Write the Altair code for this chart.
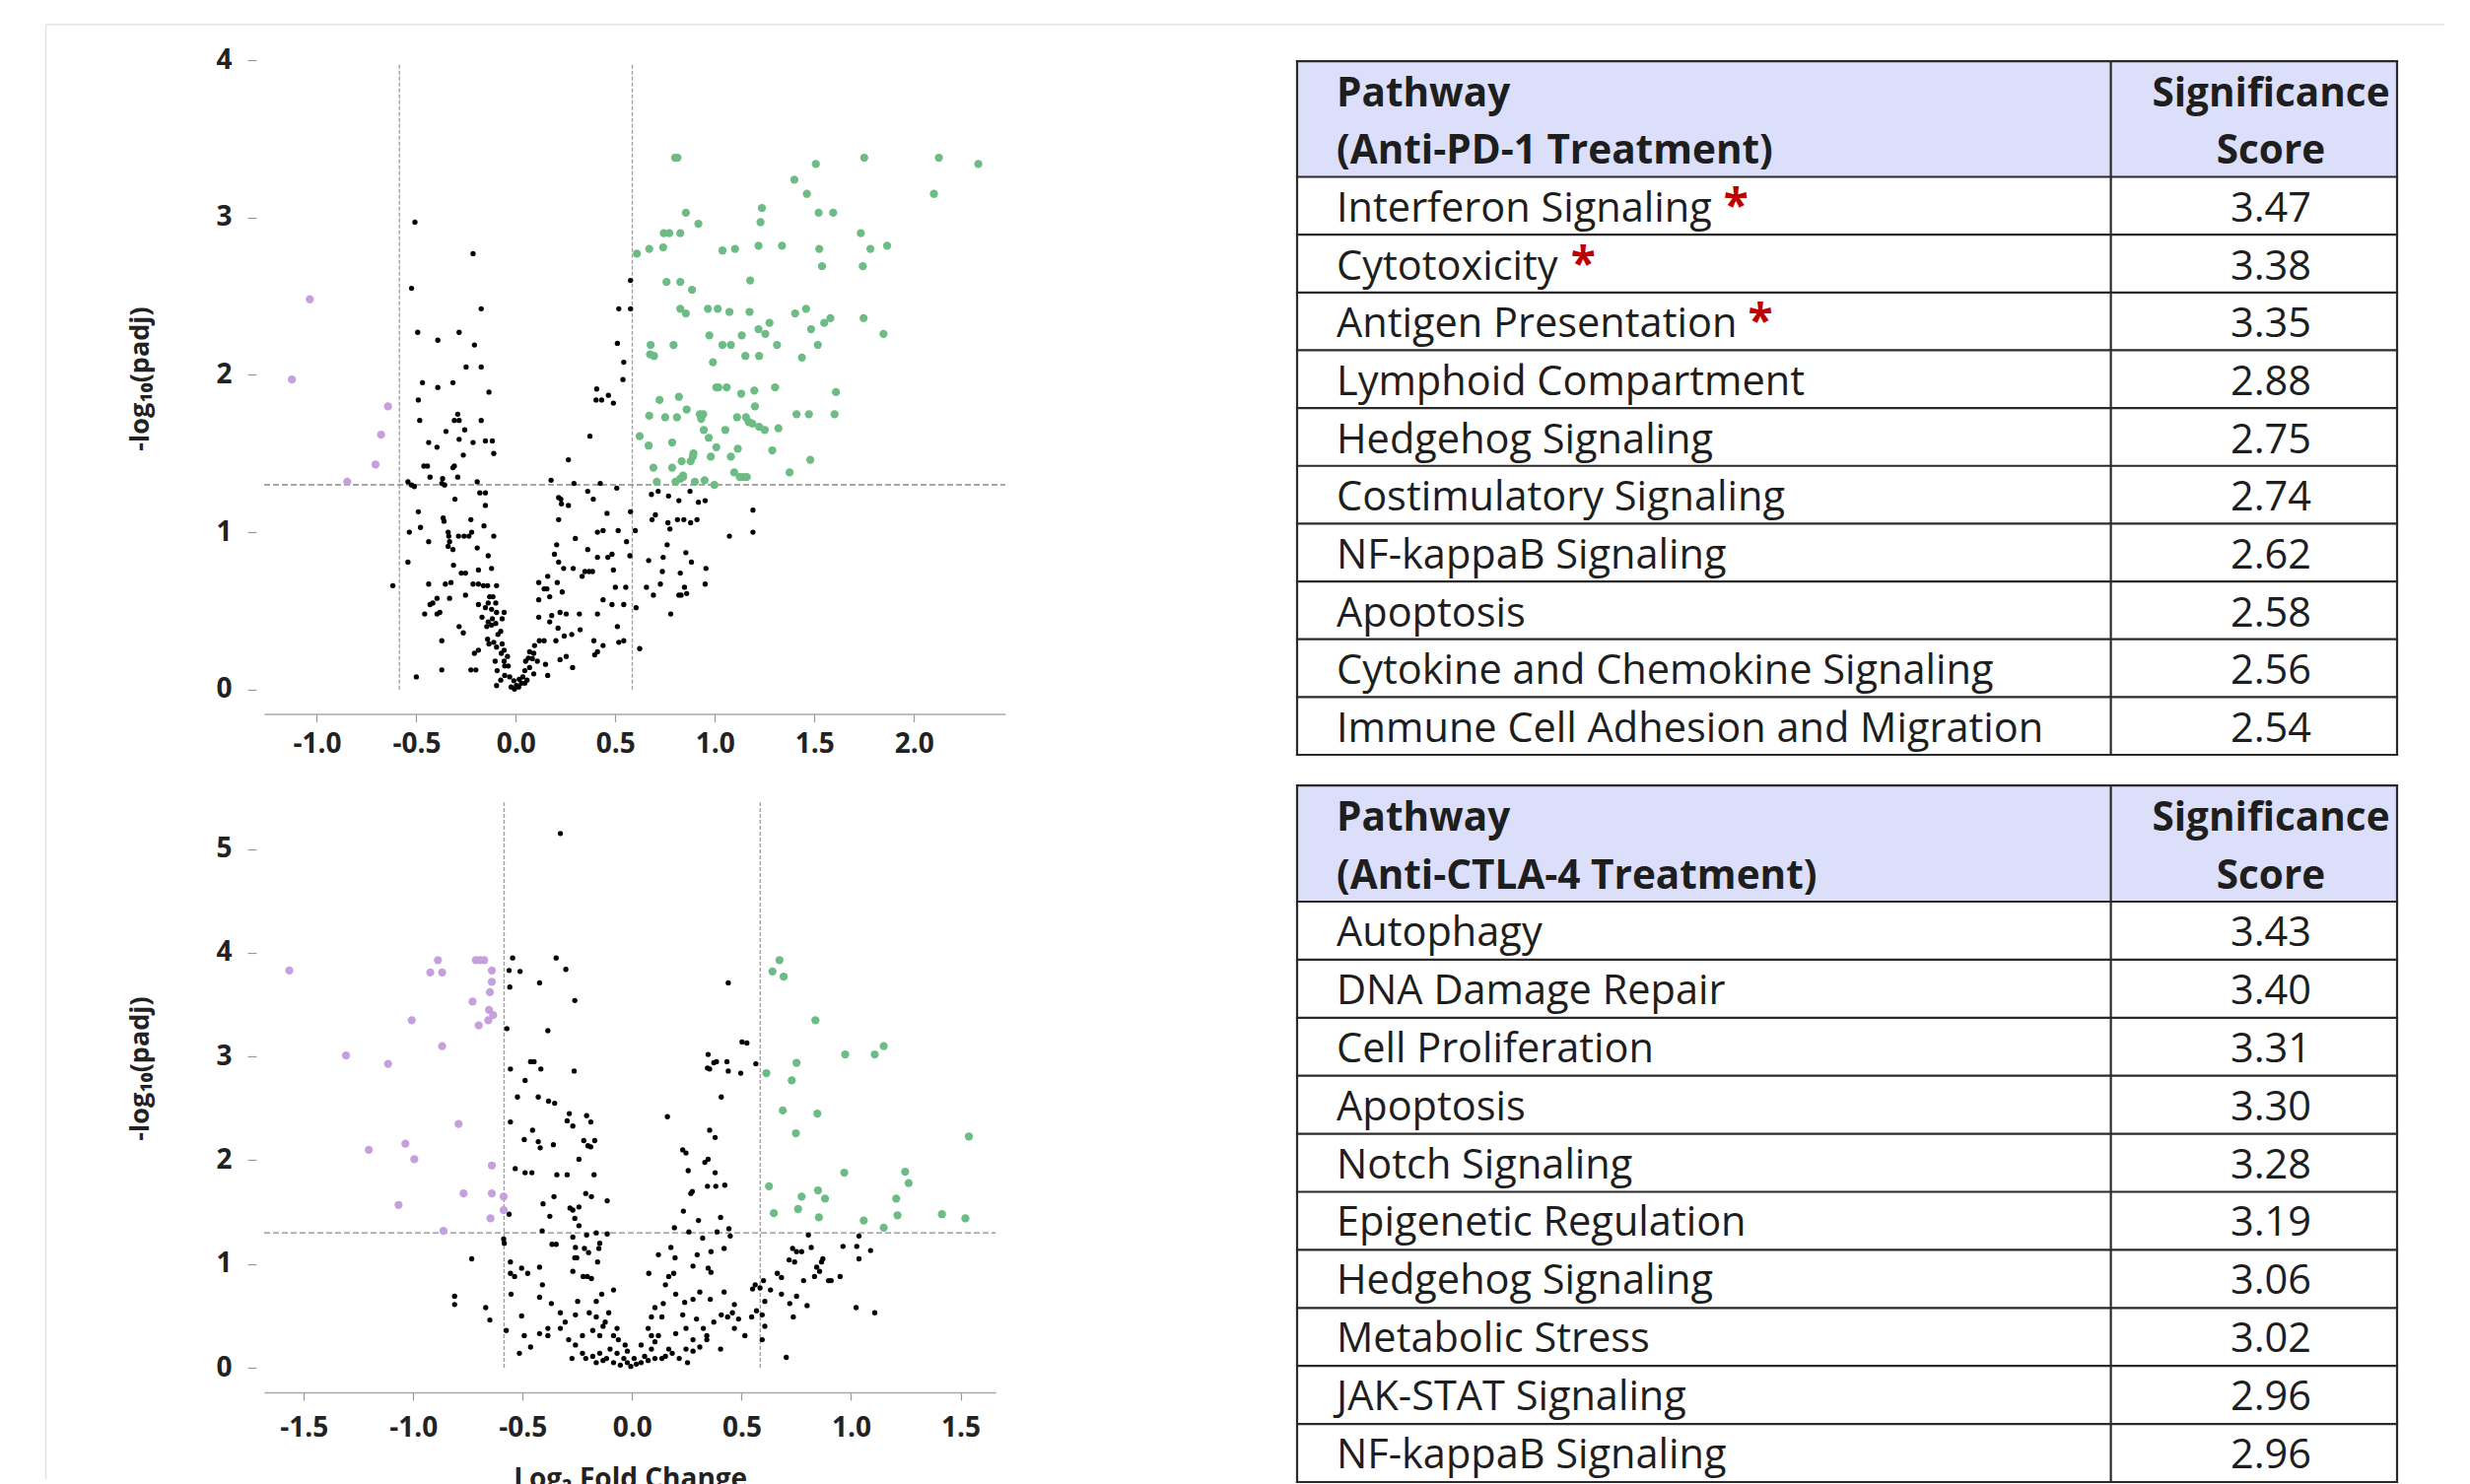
import altair as alt
import pandas as pd

# ---------------- volcano data: (log2 fold change, -log10 padj) ----------------
pd1_down = [(-1.035, 2.48), (-1.125, 1.97), (-0.642, 1.80), (-0.677, 1.62), (-0.705, 1.43), (-0.847, 1.32)]

pd1_up = [
    (0.80, 3.38), (0.812, 3.38), (1.507, 3.34), (1.75, 3.38), (2.125, 3.38), (2.323, 3.34), (1.399, 3.24),
    (1.462, 3.15), (2.10, 3.15), (0.854, 3.03), (1.236, 3.06), (1.229, 2.97), (1.521, 3.03), (1.594, 3.03),
    (0.917, 2.96), (0.743, 2.90), (0.771, 2.90), (0.826, 2.90), (1.733, 2.90), (0.608, 2.77), (0.670, 2.80),
    (0.740, 2.81), (1.038, 2.79), (1.101, 2.80), (1.219, 2.82), (1.337, 2.82), (1.524, 2.80), (1.781, 2.80),
    (1.865, 2.82), (1.538, 2.69), (1.743, 2.69), (0.757, 2.59), (0.826, 2.59), (0.885, 2.54), (1.177, 2.60),
    (0.826, 2.42), (0.854, 2.39), (0.965, 2.42), (1.014, 2.42), (1.073, 2.40), (1.174, 2.40), (1.403, 2.39),
    (1.458, 2.42), (1.549, 2.33), (1.58, 2.36), (1.747, 2.36), (1.483, 2.29), (1.219, 2.29), (1.253, 2.26),
    (1.274, 2.33), (1.135, 2.25), (0.972, 2.25), (1.847, 2.26), (0.677, 2.19), (0.792, 2.19), (1.038, 2.19),
    (1.08, 2.19), (1.312, 2.19), (1.517, 2.19), (0.674, 2.13), (0.694, 2.12), (1.153, 2.12), (1.222, 2.12),
    (1.437, 2.11), (0.99, 2.08), (1.007, 1.92), (1.017, 1.92), (1.059, 1.92), (1.132, 1.88), (1.198, 1.90),
    (1.302, 1.92), (1.608, 1.89), (0.722, 1.84), (0.819, 1.86), (1.201, 1.80), (0.858, 1.78), (0.670, 1.74),
    (0.75, 1.73), (0.809, 1.73), (0.924, 1.75), (0.941, 1.75), (0.931, 1.72), (1.111, 1.73), (1.156, 1.73),
    (1.17, 1.70), (1.188, 1.69), (1.222, 1.67), (1.25, 1.65), (1.319, 1.66), (1.41, 1.75), (1.472, 1.75),
    (1.601, 1.75), (0.944, 1.65), (1.052, 1.65), (0.622, 1.61), (0.969, 1.60), (0.667, 1.55), (0.785, 1.57),
    (0.892, 1.50), (0.889, 1.48), (1.007, 1.54), (1.115, 1.53), (1.288, 1.52), (0.833, 1.45), (0.878, 1.45),
    (0.979, 1.48), (1.08, 1.48), (1.479, 1.46), (0.691, 1.41), (0.785, 1.41), (0.84, 1.36), (1.097, 1.38),
    (1.125, 1.35), (1.142, 1.35), (1.16, 1.35), (1.375, 1.38), (0.708, 1.32), (0.802, 1.32), (0.826, 1.34),
    (0.84, 1.35), (0.899, 1.32), (0.948, 1.33), (0.997, 1.30),
]

pd1_ns = [
    (-0.507, 2.97), (-0.215, 2.77), (-0.524, 2.55), (-0.174, 2.42), (-0.493, 2.27), (-0.285, 2.27), (-0.392, 2.22),
    (-0.208, 2.19), (-0.25, 2.05), (-0.174, 2.05), (-0.469, 1.95), (-0.316, 1.95), (-0.392, 1.92), (-0.135, 1.89),
    (-0.49, 1.84), (-0.292, 1.75), (-0.309, 1.71), (-0.285, 1.71), (-0.174, 1.71), (-0.483, 1.71), (-0.257, 1.65),
    (-0.351, 1.64), (-0.285, 1.59), (-0.438, 1.57), (-0.215, 1.57), (-0.153, 1.58), (-0.118, 1.58), (-0.396, 1.54),
    (-0.111, 1.50), (-0.264, 1.49), (-0.462, 1.42), (-0.444, 1.42), (-0.309, 1.42), (-0.316, 1.41), (-0.431, 1.35),
    (-0.368, 1.34), (-0.292, 1.35), (-0.194, 1.32), (-0.542, 1.32), (-0.524, 1.30), (-0.51, 1.29), (-0.372, 1.31),
    (-0.358, 1.30), (-0.181, 1.25), (-0.153, 1.25), (-0.306, 1.21), (-0.153, 1.17), (-0.49, 1.13), (-0.365, 1.09),
    (-0.361, 1.07), (-0.226, 1.08), (-0.479, 1.03), (-0.535, 1.00), (-0.340, 1.00), (-0.222, 1.00), (-0.337, 0.975),
    (-0.288, 0.975), (-0.26, 0.975), (-0.236, 0.975), (-0.16, 1.04), (-0.111, 0.975), (-0.333, 0.94), (-0.438, 0.94),
    (-0.34, 0.91), (-0.316, 0.89), (-0.194, 0.90), (-0.139, 0.85), (-0.313, 0.79), (-0.122, 0.77), (-0.542, 0.81),
    (-0.188, 0.76), (-0.274, 0.74), (-0.253, 0.74), (-0.618, 0.66), (-0.438, 0.67), (-0.354, 0.67), (-0.326, 0.68),
    (-0.215, 0.67), (-0.188, 0.67), (-0.163, 0.66), (-0.142, 0.66), (-0.097, 0.66), (-0.253, 0.60), (-0.396, 0.58),
    (-0.333, 0.58), (-0.132, 0.59), (-0.115, 0.59), (-0.139, 0.55), (-0.101, 0.55), (-0.417, 0.55), (-0.431, 0.54),
    (-0.188, 0.54), (-0.153, 0.52), (-0.122, 0.51), (-0.097, 0.49), (-0.059, 0.49), (-0.382, 0.49), (-0.458, 0.48),
    (-0.396, 0.48), (-0.170, 0.46), (-0.118, 0.45), (-0.069, 0.45), (-0.139, 0.43), (-0.122, 0.41), (-0.146, 0.40),
    (-0.101, 0.42), (-0.285, 0.40), (-0.264, 0.36), (-0.076, 0.37), (-0.09, 0.35), (-0.142, 0.32), (-0.111, 0.30),
    (-0.372, 0.31), (-0.135, 0.29), (-0.069, 0.29), (-0.097, 0.27), (-0.059, 0.25), (-0.188, 0.25), (-0.208, 0.23),
    (-0.073, 0.23), (-0.042, 0.21), (-0.104, 0.18), (-0.059, 0.18), (-0.056, 0.15), (-0.038, 0.15), (-0.226, 0.125),
    (-0.201, 0.125), (-0.372, 0.125), (-0.094, 0.12), (-0.056, 0.09), (-0.031, 0.08), (-0.076, 0.06), (-0.097, 0.025),
    (-0.010, 0.056), (0.003, 0.025), (-0.007, 0.003), (0.014, 0.016), (0.028, 0.04), (-0.5, 0.08), (-0.024, 0.016),
    (0.576, 2.60), (0.517, 2.42), (0.576, 2.42), (0.51, 2.20), (0.542, 2.08), (0.538, 1.97), (0.406, 1.91),
    (0.403, 1.84), (0.431, 1.84), (0.465, 1.87), (0.49, 1.82), (0.372, 1.61), (0.264, 1.46), (0.177, 1.33),
    (0.292, 1.31), (0.424, 1.31), (0.507, 1.28), (0.361, 1.26), (0.215, 1.22), (0.226, 1.21), (0.229, 1.18),
    (0.264, 1.17), (0.389, 1.21), (0.215, 1.08), (0.458, 1.12), (0.576, 1.13), (0.41, 1.00), (0.438, 1.01),
    (0.514, 1.01), (0.60, 1.01), (0.299, 0.96), (0.205, 0.92), (0.361, 0.89), (0.194, 0.86), (0.556, 0.94),
    (0.41, 0.84), (0.462, 0.84), (0.483, 0.86), (0.573, 0.85), (0.215, 0.81), (0.24, 0.77), (0.49, 0.76),
    (0.288, 0.77), (0.347, 0.75), (0.368, 0.75), (0.385, 0.75), (0.16, 0.72), (0.333, 0.72), (0.115, 0.68),
    (0.208, 0.68), (0.142, 0.64), (0.156, 0.64), (0.233, 0.62), (0.5, 0.65), (0.552, 0.65), (0.115, 0.57),
    (0.17, 0.59), (0.222, 0.49), (0.253, 0.48), (0.319, 0.48), (0.438, 0.57), (0.483, 0.54), (0.542, 0.54),
    (0.604, 0.52), (0.41, 0.48), (0.18, 0.47), (0.115, 0.46), (0.17, 0.43), (0.212, 0.39), (0.323, 0.38),
    (0.51, 0.40), (0.243, 0.34), (0.281, 0.35), (0.201, 0.31), (0.392, 0.31), (0.118, 0.31), (0.142, 0.31),
    (0.517, 0.30), (0.542, 0.31), (0.438, 0.28), (0.41, 0.24), (0.396, 0.22), (0.622, 0.26), (0.253, 0.21),
    (0.222, 0.19), (0.285, 0.14), (0.094, 0.28), (0.069, 0.24), (0.09, 0.23), (0.063, 0.20), (0.083, 0.196),
    (0.108, 0.18), (0.049, 0.18), (0.149, 0.16), (0.16, 0.09), (0.069, 0.14), (0.045, 0.12), (0.09, 0.10),
    (0.035, 0.08), (0.056, 0.06), (0.017, 0.065), (0.045, 0.04),
    (0.681, 1.24), (0.715, 1.26), (0.767, 1.23), (0.819, 1.20), (0.875, 1.26), (0.917, 1.19), (0.951, 1.20),
    (0.684, 1.08), (0.701, 1.11), (0.764, 1.06), (0.774, 1.02), (0.812, 1.08), (0.844, 1.08), (0.91, 1.08),
    (0.878, 1.06), (1.191, 1.14), (1.191, 1.00), (1.073, 0.975), (0.76, 0.92), (0.667, 0.82), (0.74, 0.84),
    (0.854, 0.87), (0.882, 0.81), (0.736, 0.75), (0.826, 0.74), (0.955, 0.77), (0.656, 0.65), (0.726, 0.67),
    (0.691, 0.60), (0.819, 0.60), (0.847, 0.65), (0.83, 0.60), (0.858, 0.61), (0.951, 0.67), (0.778, 0.48),
]

ctla_down = [
    (-1.566, 3.83), (-0.887, 3.93), (-0.922, 3.81), (-0.868, 3.81), (-0.714, 3.93), (-0.695, 3.93), (-0.676, 3.93),
    (-0.641, 3.83), (-0.641, 3.72), (-0.65, 3.62), (-0.729, 3.53), (-0.654, 3.45), (-0.635, 3.40), (-0.657, 3.35),
    (-0.701, 3.30), (-1.007, 3.35), (-0.868, 3.10), (-1.307, 3.01), (-1.115, 2.93), (-0.793, 2.35), (-1.036, 2.16),
    (-1.203, 2.10), (-0.995, 2.01), (-0.641, 1.95), (-0.770, 1.68), (-0.641, 1.68), (-0.587, 1.65), (-0.587, 1.52),
    (-1.067, 1.57), (-0.647, 1.44), (-0.862, 1.32),
]

ctla_up = [
    (0.673, 3.93), (0.641, 3.82), (0.692, 3.77), (0.837, 3.35), (0.751, 2.94), (0.613, 2.84), (0.729, 2.77),
    (1.149, 3.10), (0.973, 3.02), (1.108, 3.02), (0.688, 2.48), (0.846, 2.45), (0.748, 2.26), (1.538, 2.23),
    (0.969, 1.88), (1.247, 1.89), (1.263, 1.78), (0.625, 1.75), (0.849, 1.71), (0.881, 1.63), (0.774, 1.65),
    (1.206, 1.63), (0.647, 1.49), (0.758, 1.53), (0.853, 1.45), (1.212, 1.47), (1.415, 1.48), (1.522, 1.44),
    (1.058, 1.42), (1.149, 1.35),
]

ctla_ns = [
    (-0.328, 5.15), (-0.546, 3.95), (-0.347, 3.95), (-0.562, 3.83), (-0.512, 3.82), (-0.303, 3.84), (-0.559, 3.67),
    (-0.423, 3.71), (0.439, 3.71), (-0.262, 3.54), (-0.572, 3.27), (-0.385, 3.25), (0.502, 3.14), (0.524, 3.13),
    (0.347, 3.02), (0.344, 2.89), (0.354, 2.88), (0.373, 2.94), (0.385, 2.95), (0.433, 2.95), (0.439, 2.86),
    (0.496, 2.84), (0.565, 2.93), (-0.556, 2.88), (-0.464, 2.95), (-0.448, 2.95), (-0.417, 2.88), (-0.265, 2.86),
    (-0.489, 2.77), (-0.524, 2.61), (-0.429, 2.61), (-0.382, 2.57), (-0.354, 2.55), (0.407, 2.61), (-0.556, 2.37),
    (-0.287, 2.45), (-0.297, 2.38), (-0.271, 2.33), (-0.208, 2.43), (-0.189, 2.37), (0.161, 2.42), (-0.455, 2.29),
    (-0.493, 2.20), (-0.429, 2.18), (-0.420, 2.12), (-0.36, 2.15), (-0.221, 2.19), (-0.202, 2.14), (-0.171, 2.19),
    (-0.189, 2.13), (0.354, 2.29), (0.379, 2.22), (-0.243, 2.01), (0.231, 2.10), (0.246, 2.07), (0.332, 1.98),
    (0.347, 2.01), (-0.534, 1.92), (-0.489, 1.88), (-0.458, 1.88), (-0.344, 1.86), (-0.297, 1.86), (-0.174, 1.86),
    (0.256, 1.90), (0.379, 1.88), (0.344, 1.75), (0.382, 1.75), (0.423, 1.76), (0.275, 1.70), (0.268, 1.68),
    (-0.357, 1.65), (-0.212, 1.68), (-0.186, 1.65), (-0.114, 1.61), (-0.407, 1.58), (-0.284, 1.54), (-0.243, 1.55),
    (-0.271, 1.52), (-0.562, 1.48), (-0.376, 1.46), (-0.262, 1.44), (0.234, 1.51), (0.303, 1.42), (0.404, 1.45),
    (-0.243, 1.37), (-0.411, 1.32), (0.193, 1.35), (0.259, 1.31), (0.442, 1.34), (0.388, 1.31), (-0.587, 1.24),
    (-0.584, 1.20), (-0.208, 1.28), (-0.114, 1.29), (-0.164, 1.30), (-0.271, 1.26), (0.322, 1.25), (0.448, 1.27),
    (-0.366, 1.19), (-0.347, 1.19), (-0.259, 1.16), (-0.148, 1.20), (-0.152, 1.15), (-0.218, 1.15), (-0.199, 1.11),
    (0.177, 1.16), (0.36, 1.12), (0.42, 1.15), (-0.262, 1.06), (-0.253, 1.06), (-0.158, 1.02), (0.12, 1.09),
    (0.196, 1.06), (0.278, 0.98), (-0.556, 1.02), (-0.733, 1.05), (0.297, 1.09), (0.347, 0.96), (0.36, 0.92),
    (-0.505, 0.96), (-0.477, 0.91), (-0.556, 0.91), (-0.537, 0.88), (-0.423, 0.97), (-0.271, 0.93), (-0.224, 0.88),
    (-0.205, 0.88), (-0.186, 0.86), (0.076, 0.91), (0.167, 0.88), (0.19, 0.91), (0.562, 0.80), (0.584, 0.77),
    (0.55, 0.76), (0.60, 0.84), (0.663, 0.91), (0.682, 0.87), (0.717, 1.04), (0.742, 1.02), (0.751, 1.12),
    (0.774, 1.12), (0.733, 1.15), (0.805, 1.28), (0.818, 1.16), (0.783, 0.84), (0.833, 0.88), (0.843, 0.97),
    (0.865, 1.02), (0.871, 1.05), (0.856, 0.93), (0.897, 0.84), (0.909, 0.84), (0.95, 0.88), (0.963, 1.17),
    (1.026, 1.17), (1.036, 1.27), (1.036, 1.05), (1.089, 1.13), (1.023, 0.58), (1.108, 0.53), (0.704, 0.10),
    (0.751, 0.69), (0.72, 0.62), (0.736, 0.49), (0.799, 0.60), (0.682, 0.71), (0.632, 0.75), (0.606, 0.64),
    (0.594, 0.51), (0.594, 0.27), (0.606, 0.40), (0.515, 0.31), (0.486, 0.47), (0.467, 0.61), (0.42, 0.73),
    (0.458, 0.53), (0.407, 0.51), (0.373, 0.44), (0.436, 0.49), (0.357, 0.66), (0.309, 0.73), (0.278, 0.66),
    (0.24, 0.63), (0.199, 0.71), (0.152, 0.80), (0.142, 0.62), (0.104, 0.58), (0.088, 0.49), (0.136, 0.49),
    (0.231, 0.51), (0.294, 0.47), (0.325, 0.38), (0.246, 0.38), (0.199, 0.33), (0.278, 0.27), (0.341, 0.27),
    (0.404, 0.18), (0.246, 0.18), (0.253, 0.05), (0.167, 0.18), (0.152, 0.11), (0.104, 0.09), (0.088, 0.18),
    (0.073, 0.38), (0.057, 0.11), (0.041, 0.05), (0.019, 0.035), (-0.006, 0.013), (-0.022, 0.05), (-0.038, 0.09),
    (-0.054, 0.026), (-0.085, 0.05), (-0.069, 0.14), (-0.101, 0.18), (-0.133, 0.07), (-0.148, 0.14), (-0.18, 0.11),
    (-0.212, 0.09), (-0.227, 0.14), (-0.259, 0.22), (-0.275, 0.09), (-0.29, 0.27), (-0.227, 0.31), (-0.18, 0.36),
    (-0.148, 0.31), (-0.085, 0.31), (-0.133, 0.40), (-0.164, 0.49), (-0.196, 0.53), (-0.259, 0.51), (-0.306, 0.44),
    (-0.328, 0.38), (-0.385, 0.38), (-0.385, 0.31), (-0.423, 0.33), (-0.464, 0.20), (-0.515, 0.14), (-0.575, 0.36),
    (-0.505, 0.50), (-0.493, 0.31), (-0.369, 0.62), (-0.328, 0.53), (-0.423, 0.68), (-0.249, 0.64), (-0.164, 0.64),
    (-0.139, 0.71), (-0.085, 0.75), (-0.107, 0.53), (-0.123, 0.44), (-0.069, 0.38), (-0.811, 0.69), (-0.811, 0.61),
    (-0.669, 0.58), (-0.65, 0.46), (-0.41, 0.80), (-0.553, 0.71), (-0.063, 0.27), (-0.032, 0.22), (0.041, 0.22),
    (0.104, 0.25), (0.088, 0.31), (0.12, 0.31), (-0.022, 0.16), (0.009, 0.09), (-0.117, 0.09), (-0.164, 0.05),
    (0.073, 0.07), (0.136, 0.09), (0.183, 0.14), (0.215, 0.09), (0.278, 0.16), (0.309, 0.20), (0.341, 0.31),
    (0.467, 0.38), (0.546, 0.49), (0.568, 0.55),
]

FC_CUT = 0.585          # log2(1.5)
P_CUT = 1.301           # -log10(0.05)
pd1_vtop = 3.975
ctla_vtop = 5.45

# ---------------- table data ----------------
pd1_names = ["Interferon Signaling", "Cytotoxicity", "Antigen Presentation", "Lymphoid Compartment",
             "Hedgehog Signaling", "Costimulatory Signaling", "NF-kappaB Signaling", "Apoptosis",
             "Cytokine and Chemokine Signaling", "Immune Cell Adhesion and Migration"]
pd1_scores = [3.47, 3.38, 3.35, 2.88, 2.75, 2.74, 2.62, 2.58, 2.56, 2.54]
pd1_starred = [True, True, True, False, False, False, False, False, False, False]

ctla_names = ["Autophagy", "DNA Damage Repair", "Cell Proliferation", "Apoptosis", "Notch Signaling",
              "Epigenetic Regulation", "Hedgehog Signaling", "Metabolic Stress", "JAK-STAT Signaling",
              "NF-kappaB Signaling"]
ctla_scores = [3.43, 3.40, 3.31, 3.30, 3.28, 3.19, 3.06, 3.02, 2.96, 2.96]
ctla_starred = [False] * 10

pd1_header = ["Pathway", "(Anti-PD-1 Treatment)"]
ctla_header = ["Pathway", "(Anti-CTLA-4 Treatment)"]
score_header = ["Significance", "Score"]

# ---------------- styling ----------------
FONT = "Open Sans"
GREEN = "#6dbb85"
PURPLE = "#c6a0dd"
TXT = "#1e1e1e"

# Open Sans regular advance widths (units per 2048 em) for placing the asterisks
OS_W = {' ': 532, 'A': 1296, 'C': 1292, 'I': 571, 'P': 1233, 'S': 1124, 'a': 1139, 'c': 975, 'e': 1149,
        'f': 694, 'g': 1122, 'i': 518, 'l': 518, 'n': 1257, 'o': 1237, 'r': 836, 's': 977, 't': 723,
        'x': 1073, 'y': 1028}


def text_width(s, size):
    return sum(OS_W.get(ch, 1150) for ch in s) / 2048.0 * size


def volcano(ns, down, up, xdom, ydom, xticks, yticks, vtop, width, height, xtitle, lab_pad, title_y, frame=False):
    xs = alt.Scale(domain=xdom, nice=False, zero=False)
    ys = alt.Scale(domain=ydom, nice=False, zero=False)
    xaxis_kw = dict(values=xticks, labelExpr="replace(format(datum.value, '.1f'), '\u2212', '-')",
                    grid=False, domain=True, domainColor="#a9a9a9", domainWidth=1.6, ticks=True,
                    tickColor="#9a9a9a", tickSize=8, tickWidth=1.2, labelFont=FONT, labelFontSize=28,
                    labelFontWeight="bold", labelColor="#222", labelPadding=lab_pad, titleFont=FONT,
                    titleFontSize=28, titleFontWeight="bold", titleColor="#222", titlePadding=24)
    if xtitle:
        xaxis = alt.Axis(title=xtitle, **xaxis_kw)
    else:
        xaxis = alt.Axis(title=None, **xaxis_kw)
    yaxis = alt.Axis(values=yticks, format="d", title="-log\u2081\u2080(padj)", grid=False, domain=False,
                     offset=8, ticks=True, tickColor="#9a9a9a", tickSize=9, tickWidth=1.2, labelFont=FONT,
                     labelFontSize=28, labelFontWeight="bold", labelColor="#222", labelPadding=16,
                     titleFont=FONT, titleFontSize=27, titleFontWeight="bold", titleColor="#222",
                     titlePadding=62, titleY=title_y)

    def X(f):
        return alt.X(f, type="quantitative", scale=xs, axis=xaxis)

    def Y(f):
        return alt.Y(f, type="quantitative", scale=ys, axis=yaxis)

    df_ns = pd.DataFrame(ns, columns=["fc", "p"])
    df_dn = pd.DataFrame(down, columns=["fc", "p"])
    df_up = pd.DataFrame(up, columns=["fc", "p"])
    vr = pd.DataFrame({"fc": [-FC_CUT, FC_CUT], "p0": [0.0, 0.0], "p1": [vtop, vtop]})
    hr = pd.DataFrame({"fc0": [xdom[0]], "fc1": [xdom[1]], "p": [P_CUT]})

    layers = []
    if frame:
        fr = pd.DataFrame({"k": [0]})
        layers.append(alt.Chart(fr).mark_rule(color="#e2e2e2", strokeWidth=1.5).encode(
            x=alt.value(-221.5), x2=alt.value(2212), y=alt.value(-36)))
        layers.append(alt.Chart(fr).mark_rule(color="#e2e2e2", strokeWidth=1.5).encode(
            x=alt.value(-221.5), y=alt.value(-36), y2=alt.value(1440)))
    layers += [
        alt.Chart(vr).mark_rule(color="#9c9c9c", strokeDash=[4, 2], strokeWidth=1.3).encode(
            x=X("fc"), y=Y("p0"), y2="p1"),
        alt.Chart(hr).mark_rule(color="#8a8a8a", strokeDash=[6, 3], strokeWidth=1.3).encode(
            x=X("fc0"), x2="fc1", y=Y("p")),
        alt.Chart(df_ns).mark_circle(color="#000000", size=28, opacity=1).encode(x=X("fc"), y=Y("p")),
        alt.Chart(df_dn).mark_circle(color=PURPLE, size=68, opacity=1).encode(x=X("fc"), y=Y("p")),
        alt.Chart(df_up).mark_circle(color=GREEN, size=68, opacity=1).encode(x=X("fc"), y=Y("p")),
    ]
    return alt.layer(*layers).properties(width=width, height=height)


TW = 1116          # table width
COL_X = 825.6      # column divider
PAD_X = 40         # left text inset
SCORE_X = 988      # score text centre


def table(header, names, scores, starred, height, ydom, dy):
    ysc = alt.Scale(domain=ydom, reverse=True, nice=False, zero=False)
    xsc = alt.Scale(domain=[0, TW], nice=False, zero=False)

    def Y(f):
        return alt.Y(f, type="quantitative", scale=ysc, axis=None)

    hdr = pd.DataFrame({"line": [1, 2], "left": header, "right": score_header})
    body = pd.DataFrame({"line": list(range(3, 13)), "name": names, "score": scores})
    stars = pd.DataFrame({
        "line": [i + 3 for i, s in enumerate(starred) if s],
        "sx": [PAD_X + text_width(n, 41) + 16 for n, s in zip(names, starred) if s],
        "t": ["*" for s in starred if s],
    })
    box = pd.DataFrame({"u0": [0], "u1": [2]})
    hl = pd.DataFrame({"u": [0, 2] + list(range(3, 13))})
    vl = pd.DataFrame({"cx": [0, COL_X, TW], "u0": [0, 0, 0], "u1": [12, 12, 12]})

    line_col = "#2a2a2a"
    layers = [
        alt.Chart(box).mark_rect(color="#dcdffa").encode(
            x=alt.value(0), x2=alt.value(TW), y=Y("u0"), y2="u1"),
        alt.Chart(hl).mark_rule(color=line_col, strokeWidth=2.2, strokeCap="square").encode(
            x=alt.value(0), x2=alt.value(TW), y=Y("u")),
        alt.Chart(vl).mark_rule(color=line_col, strokeWidth=2.2, strokeCap="square").encode(
            x=alt.X("cx:Q", scale=xsc, axis=None), y=Y("u0"), y2="u1"),
        alt.Chart(hdr).mark_text(font=FONT, fontSize=40.5, fontWeight="bold", color=TXT, align="left",
                                 baseline="alphabetic", dy=-13).encode(
            x=alt.value(PAD_X), y=Y("line"), text="left:N"),
        alt.Chart(hdr).mark_text(font=FONT, fontSize=40.5, fontWeight="bold", color=TXT, align="center",
                                 baseline="alphabetic", dy=-13).encode(
            x=alt.value(SCORE_X), y=Y("line"), text="right:N"),
        alt.Chart(body).mark_text(font=FONT, fontSize=41.5, color=TXT, align="left",
                                  baseline="alphabetic", dy=dy).encode(
            x=alt.value(PAD_X), y=Y("line"), text="name:N"),
        alt.Chart(body).mark_text(font=FONT, fontSize=41.5, color=TXT, align="center",
                                  baseline="alphabetic", dy=dy).encode(
            x=alt.value(SCORE_X), y=Y("line"), text=alt.Text("score:Q", format=".2f")),
    ]
    if len(stars):
        layers.append(alt.Chart(stars).mark_text(font=FONT, fontSize=46, fontWeight="bold", color="#c00000",
                                                 align="left", baseline="alphabetic", dy=dy).encode(
            x=alt.X("sx:Q", scale=xsc, axis=None), y=Y("line"), text="t:N"))
    return alt.layer(*layers).properties(width=TW, height=height)


v1 = volcano(pd1_ns, pd1_down, pd1_up, [-1.2644, 2.4589], [-0.155, 4.0],
             [-1.0, -0.5, 0.0, 0.5, 1.0, 1.5, 2.0], [0, 1, 2, 3, 4], pd1_vtop,
             752, 663.5, None, 9, 323, frame=True)
v2 = volcano(ctla_ns, ctla_down, ctla_up, [-1.681, 1.661], [-0.237, 5.5],
             [-1.5, -1.0, -0.5, 0.0, 0.5, 1.0, 1.5], [0, 1, 2, 3, 4, 5], ctla_vtop,
             742.3, 604, "Log\u2082 Fold Change", 14, 275)
t1 = table(pd1_header, pd1_names, pd1_scores, pd1_starred, 705, [-0.02, 12], -13)
t2 = table(ctla_header, ctla_names, ctla_scores, ctla_starred, 695, [0.2, 12], -14)

chart = alt.concat(
    v1, t1, v2, t2, columns=2, spacing={"row": 43, "column": 296}, bounds="flush", align="each"
).properties(
    padding={"left": 37, "top": 16, "right": 0, "bottom": 0}
).configure(
    font=FONT, view=alt.ViewConfig(stroke="transparent", strokeWidth=0)
)

chart.save("out.html", embed_options={"renderer": "svg", "actions": False})
